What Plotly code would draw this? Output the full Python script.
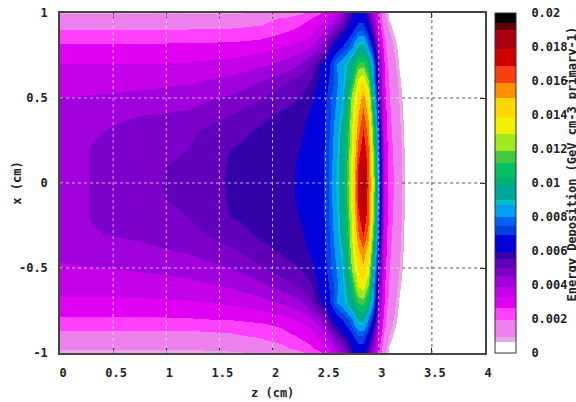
import plotly.graph_objects as go

# values in units of 0.001 GeV cm-3 primary-1
z_cm = [0, .4, .8, 1.2, 1.6, 1.9, 2.1, 2.25, 2.35, 2.45, 2.5, 2.55, 2.6, 2.65, 2.7, 2.75, 2.8, 2.85, 2.9, 2.95, 3.0, 3.05, 3.1, 3.15, 3.2, 3.25, 3.3, 4]
x_cm = [1, .97, .93, .88, .84, .8, .7, .6, .5, .4, .3, .2, .1, 0, -.1, -.2, -.3, -.4, -.5, -.6, -.7, -.8, -.84, -.88, -.93, -.97, -1]
deposition = [
 [.9,.9,.9,.9,.92,1.0,1.4,1.8,2.2,2.6,2.9,3.2,3.6,4.3,5.2,5.9,6.2,6.2,5.3,3.9,2.6,1.2,.5,.2,0,0,0,0],
 [1.5,1.5,1.5,1.5,1.6,1.8,2.0,2.3,2.6,3.0,3.3,3.6,4.1,4.7,5.4,6.0,6.6,6.6,5.7,4.3,2.8,1.2,.6,.3,.1,0,0,0],
 [1.7,1.7,1.7,1.7,1.75,1.95,2.2,2.6,2.9,3.3,3.6,4.0,4.6,5.2,5.8,6.5,7.1,7.1,6.2,4.8,3.0,1.5,.75,.4,.2,0,0,0],
 [2.2,2.2,2.2,2.2,2.25,2.4,2.65,2.95,3.2,3.7,4.2,4.7,5.3,5.9,6.4,7.0,7.7,7.7,6.8,5.4,3.3,1.9,1.0,.5,.25,.05,0,0],
 [2.5,2.5,2.5,2.5,2.55,2.7,2.95,3.2,3.5,4.1,4.7,5.3,5.9,6.5,7.0,7.6,8.4,8.6,7.5,6.0,3.6,2.2,1.2,.7,.3,.1,0,0],
 [2.8,2.8,2.8,2.9,2.95,3.1,3.3,3.55,3.9,4.5,5.0,6.0,6.5,7.0,7.4,7.9,9.2,9.4,8.0,6.6,4.0,2.3,1.3,.8,.4,.1,0,0],
 [3.3,3.3,3.3,3.35,3.5,3.8,4.1,4.5,5.0,5.9,6.4,7.1,8.0,8.4,9.0,10.0,11.4,11.5,10.4,8.0,4.8,2.7,1.7,1.0,.5,.2,.05,0],
 [3.6,3.6,3.7,3.8,4.1,4.5,4.9,5.2,5.5,6.1,6.7,7.2,7.8,8.5,9.3,11.0,13.2,13.8,12,8.5,5,2.8,1.9,1.2,.7,.3,.1,0],
 [3.9,4.0,4.1,4.3,4.6,5.0,5.3,5.5,5.8,6.3,6.9,7.5,8,8.7,10,12.4,14.3,15.5,14,9.5,5.5,2.9,2.0,1.4,.8,.4,.1,0],
 [4.2,4.4,4.5,4.6,5.0,5.4,5.6,5.75,6.0,6.4,7.0,7.6,8.2,9.0,10.4,12.8,15,16.2,14.8,10.5,6,3.1,2.1,1.5,.9,.45,.1,0],
 [4.3,4.5,4.7,4.9,5.35,5.6,5.75,5.85,6.1,6.5,7.1,7.7,8.4,9.3,10.8,13,15.6,17,15.5,11.5,6.5,3.2,2.2,1.6,1.0,.5,.15,0],
 [4.3,4.6,4.8,5.0,5.5,5.65,5.8,5.95,6.2,6.55,7.15,7.8,8.5,9.4,11,13.3,16.3,17.7,16,12,6.9,3.3,2.3,1.7,1.1,.55,.15,0],
 [4.3,4.6,4.9,5.1,5.55,5.7,5.8,6.0,6.3,6.6,7.2,7.9,8.6,9.6,11.3,13.5,17,18.3,16.3,12.6,7.1,3.4,2.35,1.75,1.1,.6,.2,0],
 [4.3,4.6,4.9,5.15,5.55,5.7,5.8,6.0,6.3,6.6,7.2,7.9,8.6,9.7,11.5,13.6,17.4,18.7,16.5,13,7.2,3.5,2.4,1.8,1.1,.6,.2,0],
 [4.3,4.6,4.9,5.1,5.55,5.7,5.8,6.0,6.3,6.6,7.2,7.9,8.6,9.6,11.3,13.5,17.2,18.4,16.4,12.7,7.1,3.4,2.35,1.75,1.1,.6,.2,0],
 [4.3,4.6,4.8,5.0,5.5,5.65,5.8,5.95,6.2,6.55,7.15,7.8,8.5,9.4,11,13.3,16.6,17.9,16.2,12.2,6.9,3.3,2.3,1.7,1.1,.55,.15,0],
 [4.3,4.5,4.6,4.8,5.3,5.6,5.75,5.85,6.1,6.5,7.1,7.7,8.4,9.3,10.8,13,15.8,17,15.5,11.5,6.5,3.2,2.2,1.6,1.05,.5,.15,0],
 [4.1,4.3,4.4,4.55,4.9,5.35,5.6,5.75,6.0,6.4,7.0,7.6,8.2,9.0,10.4,12.8,14.8,15.6,14.4,10.5,6,3.1,2.1,1.5,.95,.45,.1,0],
 [3.8,3.9,4.0,4.2,4.5,4.95,5.3,5.5,5.8,6.3,6.9,7.5,8,8.7,10,12.2,14,14.8,13.4,9.5,5.5,2.9,2.0,1.4,.85,.4,.1,0],
 [3.5,3.5,3.6,3.7,4.0,4.4,4.8,5.1,5.4,6.1,6.7,7.2,7.8,8.5,9.3,11.0,13,13.5,12,8.5,5,2.8,1.9,1.2,.7,.3,.1,0],
 [3.2,3.2,3.2,3.25,3.4,3.7,4.0,4.4,4.9,5.9,6.4,7.1,8.0,8.4,9.0,10.0,11.4,11.5,10.2,8.0,4.6,2.7,1.7,1.0,.5,.2,.05,0],
 [2.55,2.55,2.55,2.6,2.7,2.9,3.15,3.4,3.8,4.4,5.0,6.0,6.5,7.0,7.4,7.9,9.2,9.4,8.0,6.6,4.0,2.3,1.3,.8,.4,.1,0,0],
 [2.1,2.1,2.1,2.1,2.2,2.45,2.75,3.1,3.4,4.0,4.6,5.3,5.9,6.5,7.0,7.6,8.4,8.6,7.5,6.0,3.6,2.2,1.2,.7,.3,.1,0,0],
 [1.85,1.85,1.85,1.85,1.95,2.15,2.5,2.85,3.1,3.6,4.1,4.7,5.3,5.9,6.4,7.0,7.7,7.7,6.8,5.4,3.3,1.9,1.0,.5,.25,.05,0,0],
 [1.6,1.6,1.6,1.6,1.65,1.85,2.1,2.5,2.8,3.2,3.5,4.0,4.6,5.2,5.8,6.5,7.1,7.1,6.2,4.8,3.0,1.5,.75,.4,.2,0,0,0],
 [1.0,1.0,1.0,1.0,1.1,1.4,1.8,2.2,2.5,2.9,3.2,3.6,4.1,4.7,5.4,6.0,6.6,6.6,5.7,4.3,2.8,1.2,.6,.3,.1,0,0,0],
 [.8,.8,.8,.8,.85,.95,1.3,1.7,2.1,2.5,2.8,3.1,3.5,4.2,5.1,5.8,6.1,6.2,5.3,3.9,2.6,1.2,.5,.2,0,0,0,0],
]

x_ticks = [0, .5, 1, 1.5, 2, 2.5, 3, 3.5, 4]
x_ticklabels = ["0", "0.5", "1", "1.5", "2", "2.5", "3", "3.5", "4"]
y_ticks = [-1, -.5, 0, .5, 1]
y_ticklabels = ["-1", "-0.5", "0", "0.5", "1"]
cbar_ticks = [0, .002, .004, .006, .008, .01, .012, .014, .016, .018, .02]
cbar_ticklabels = ["0", "0.002", "0.004", "0.006", "0.008", "0.01", "0.012", "0.014", "0.016", "0.018", "0.02"]

band_edges = [0, .65, .95, 1.95, 2.65, 3.3, 3.9, 4.5, 5, 5.5, 5.95, 6.95, 7.5, 8, 8.7, 9, 9.9, 10.3, 11.2, 11.9, 12.9, 13.9, 15, 15.9, 16.9, 17.9, 19, 19.4, 20]
band_colors = ["#ffffff", "#e8a8e4", "#ee80ee", "#ff40ff", "#e000f4", "#c400e8", "#a000dc", "#7c00c8", "#6000b8", "#3400a8",
               "#0000d8", "#0040e0", "#0060f0", "#00a0f0", "#00c0c8", "#00a898", "#00b078", "#00c060", "#40c840", "#a0e820",
               "#f0f000", "#ffd800", "#ff9000", "#f84010", "#d00000", "#a80010", "#600000", "#000000"]

colorscale = []
for i, c in enumerate(band_colors):
    colorscale.append([band_edges[i] / 20, c])
    colorscale.append([band_edges[i + 1] / 20, c])

FONT = "DejaVu Sans Mono"
tick_font = dict(family=FONT, size=12, color="#222222", weight=700)

fig = go.Figure(go.Heatmap(
    x=z_cm, y=x_cm,
    z=[[v * 0.001 for v in row] for row in deposition],
    zmin=0, zmax=.02, zsmooth="best", colorscale=colorscale,
    colorbar=dict(
        x=1.0228, xanchor="left", xpad=0, y=.5, yanchor="middle", ypad=0,
        thickness=21, len=1, lenmode="fraction",
        outlinecolor="#333333", outlinewidth=1,
        tickmode="array", tickvals=cbar_ticks, ticktext=cbar_ticklabels,
        ticks="outside", ticklen=13, tickcolor="rgba(0,0,0,0)", tickfont=tick_font,
    ),
))

LIGHT = "rgba(255,235,255,0.7)"
DARK = "#555555"
SPLIT = 3.22
for t in x_ticks[1:-1]:
    fig.add_shape(type="line", x0=t, x1=t, y0=-1, y1=1, layer="above",
                  line=dict(color=DARK if t > SPLIT else LIGHT, width=1, dash="3px,3px"))
for t in y_ticks[1:-1]:
    fig.add_shape(type="line", x0=0, x1=SPLIT, y0=t, y1=t, layer="above",
                  line=dict(color=LIGHT, width=1, dash="3px,3px"))
    fig.add_shape(type="line", x0=SPLIT, x1=4, y0=t, y1=t, layer="above",
                  line=dict(color=DARK, width=1, dash="3px,3px"))
for t in cbar_ticks[1:-1]:
    yp = t / .02
    for a, b in ((1.0228, 1.0299), (1.0659, 1.0729)):
        fig.add_shape(type="line", xref="paper", yref="paper", x0=a, x1=b, y0=yp, y1=yp,
                      layer="above", line=dict(color="#222222", width=1))

axis_common = dict(showgrid=False, zeroline=False, showline=True, mirror="ticks", linecolor="#444444", linewidth=1.5,
                   ticks="inside", ticklen=5, tickcolor="#222222", tickwidth=1, tickfont=tick_font)
fig.update_layout(
    width=576, height=402,
    margin=dict(l=60, r=91, t=13, b=49, autoexpand=False),
    paper_bgcolor="white", plot_bgcolor="white",
    xaxis=dict(range=[0, 4], tickvals=x_ticks, ticktext=x_ticklabels, ticklabelstandoff=8, ticklabelshift=3, **axis_common),
    yaxis=dict(range=[-1, 1], tickvals=y_ticks, ticktext=y_ticklabels, ticklabelstandoff=8, **axis_common),
    annotations=[
        dict(text="Energy Deposition (GeV cm-3 primary-1)", textangle=-90, xref="paper", yref="paper",
             x=1.205, y=.555, xanchor="center", yanchor="middle", showarrow=False, font=tick_font),
        dict(text="x (cm)", textangle=-90, xref="paper", yref="paper",
             x=-.102, y=.5, xanchor="center", yanchor="middle", showarrow=False, font=tick_font),
        dict(text="z (cm)", xref="paper", yref="paper",
             x=.5, y=-.118, xanchor="center", yanchor="middle", showarrow=False, font=tick_font),
    ],
)
fig.write_html("out.html", config=dict(displayModeBar=False),
               post_script="document.body.style.margin='0';document.documentElement.style.overflow='hidden';")
